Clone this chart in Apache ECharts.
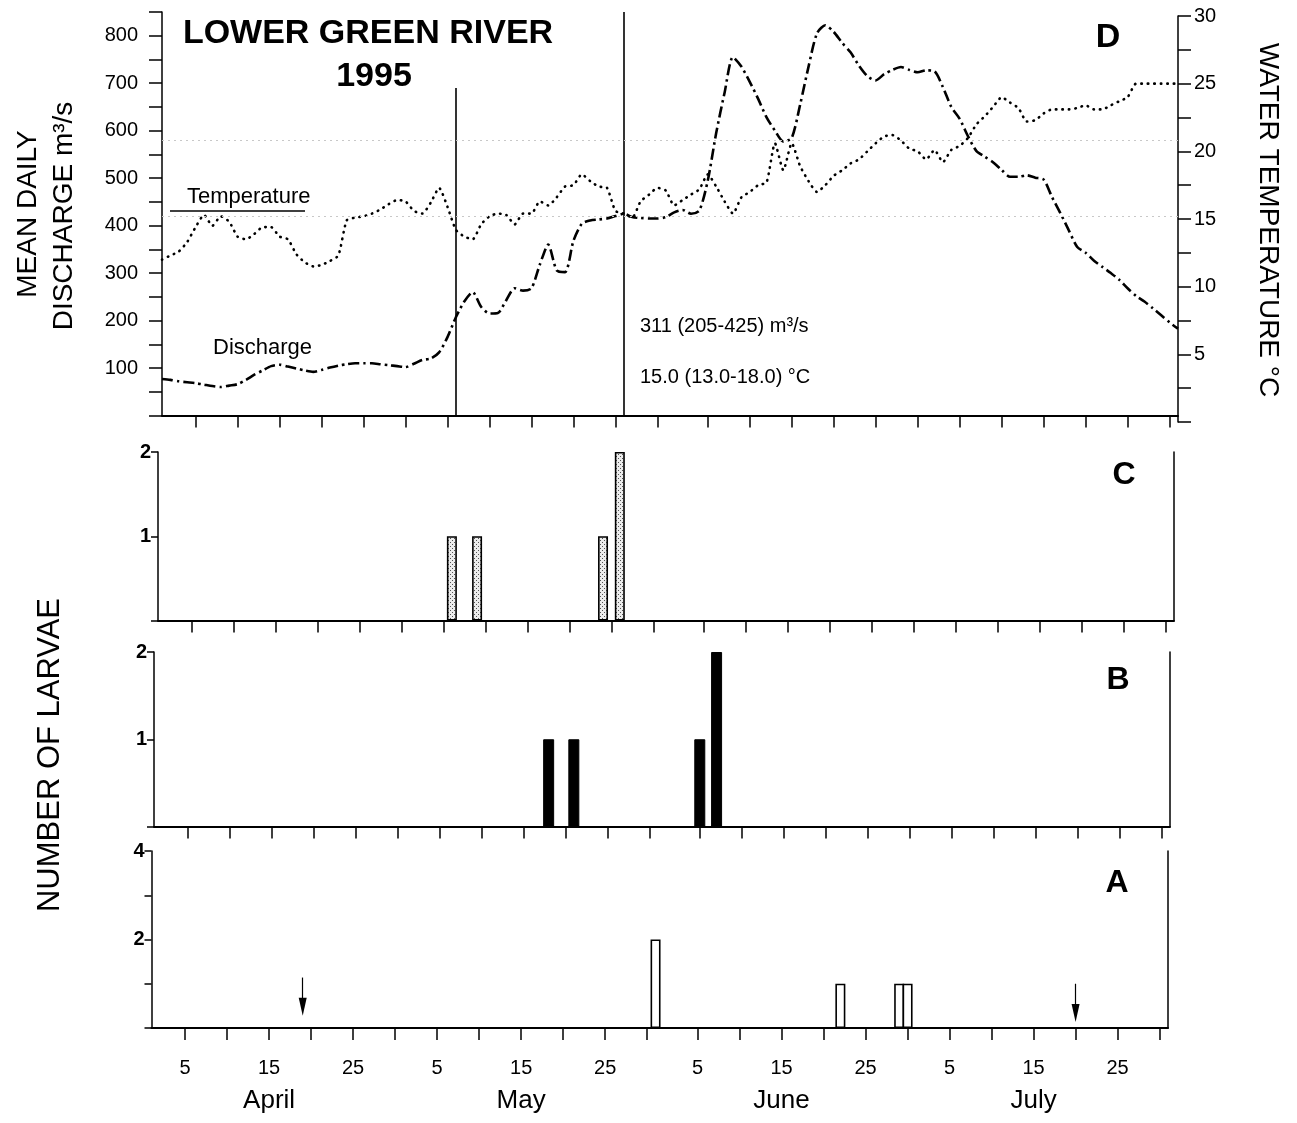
<!DOCTYPE html>
<html>
<head>
<meta charset="utf-8">
<script src="https://cdn.jsdelivr.net/npm/echarts@6/dist/echarts.min.js"></script>
<style>
html,body{margin:0;padding:0;background:#fff;}
#chart{width:1297px;height:1123px;}
</style>
</head>
<body>
<div id="chart"></div>
<script>
// ---- categories ----
const monthNames = ['April', 'May', 'June', 'July'];
const monthNums = [4, 5, 6, 7];
const monthLengths = [30, 31, 30, 31];
const tickDays = [5, 10, 15, 20, 25, 30];
const labelDays = [5, 15, 25];

const days = [];
monthNums.forEach((m, i) => { for (let d = 1; d <= monthLengths[i]; d++) days.push(m + '/' + d); });

// ---- panel D : mean daily discharge (m3/s), Apr 1 .. Jul 31 ----
const discharge = [
  77, 75, 72, 70, 68, 65, 62, 60, 63, 66,
  75, 86, 95, 104, 107, 103, 99, 95, 92, 96,
  101, 105, 108, 110, 110, 110, 108, 106, 104, 102,
  109, 117, 120, 133, 165, 207, 240, 260, 229, 215,
  216, 243, 268, 263, 268, 318, 360, 306, 302, 368,
  404, 411, 413, 415, 420, 425, 418, 416, 415, 415,
  418, 428, 433, 425, 432, 495, 595, 680, 755, 735,
  703, 667, 628, 600, 577, 585, 655, 735, 805, 822,
  808, 785, 765, 737, 715, 706, 719, 728, 734, 728,
  723, 727, 725, 692, 650, 625, 588, 557, 545, 533,
  517, 503, 503, 506, 501, 497, 460, 426, 390, 355,
  343, 326, 313, 300, 286, 268, 252, 240, 226, 211,
  196, 183
];

// ---- panel D : water temperature (deg C) ----
const temperature = [
  12.0, 12.3, 12.6, 13.3, 14.4, 15.3, 14.5, 15.2, 14.8, 13.7,
  13.5, 13.9, 14.4, 14.4, 13.7, 13.5, 12.4, 11.8, 11.5, 11.6,
  11.9, 12.3, 14.9, 15.1, 15.2, 15.4, 15.7, 16.1, 16.4, 16.3,
  15.6, 15.4, 16.2, 17.3, 15.9, 14.2, 13.7, 13.5, 14.6, 15.2,
  15.4, 15.3, 14.6, 15.4, 15.4, 16.3, 16.0, 16.6, 17.4, 17.5,
  18.3, 17.8, 17.4, 17.3, 15.6, 15.4, 15.1, 16.3, 16.8, 17.3,
  17.1, 16.0, 16.4, 16.8, 17.2, 18.3, 17.4, 16.3, 15.4, 16.6,
  17.0, 17.5, 17.7, 20.6, 18.6, 20.6, 18.9, 17.8, 17.0, 17.5,
  18.2, 18.6, 19.1, 19.4, 20.0, 20.6, 21.1, 21.2, 20.8, 20.2,
  20.0, 19.4, 20.1, 19.2, 20.1, 20.4, 21.0, 22.0, 22.6, 23.3,
  24.0, 23.6, 23.2, 22.2, 22.3, 22.8, 23.1, 23.1, 23.1, 23.2,
  23.4, 23.1, 23.1, 23.4, 23.7, 24.0, 25.0, 25.0, 25.0, 25.0,
  25.0, 25.0
];

// ---- larvae counts ----
const larvaeC = [['5/6', 1], ['5/9', 1], ['5/24', 1], ['5/26', 2]];
const larvaeB = [['5/18', 1], ['5/21', 1], ['6/5', 1], ['6/7', 2]];
const larvaeA = [['5/31', 2], ['6/22', 1], ['6/29', 1], ['6/30', 1]];

// markers
const periodLines = [['5/6', 690], ['5/26', 850]];
const arrowsA = [['4/19', 1.14, 0.48], ['7/20', 1.0, 0.34]];
const tempRefLines = [20.8, 15.2];

// ---- stipple pattern ----
const pc = document.createElement('canvas');
pc.width = 4; pc.height = 4;
const pctx = pc.getContext('2d');
pctx.fillStyle = '#ececec'; pctx.fillRect(0, 0, 4, 4);
pctx.fillStyle = '#555';
pctx.fillRect(0, 0, 1, 1); pctx.fillRect(2, 2, 1, 1);

const FF = '"Liberation Sans", Arial, Helvetica, sans-serif';
const dayOf = v => +String(v).split('/')[1];
const tickFn = (i, v) => tickDays.indexOf(dayOf(v)) >= 0;
const labelFn = (i, v) => labelDays.indexOf(dayOf(v)) >= 0;

function xAx(gi, withLabels) {
  return {
    type: 'category', gridIndex: gi, data: days, boundaryGap: false,
    axisLine: { show: true, lineStyle: { color: '#000', width: 2 } },
    axisTick: { show: true, interval: tickFn, length: 12, inside: false, lineStyle: { color: '#000', width: 1.5 } },
    axisLabel: withLabels ? {
      show: true, interval: labelFn, margin: 27, color: '#000',
      formatter: v => {
        const [m, d] = v.split('/');
        if (d === '15') return '{d|15}\n{m|' + monthNames[monthNums.indexOf(+m)] + '}';
        return '{d|' + d + '}';
      },
      rich: {
        d: { fontSize: 20, lineHeight: 26, fontFamily: FF, color: '#000' },
        m: { fontSize: 26, lineHeight: 40, fontFamily: FF, color: '#000' }
      }
    } : { show: false },
    splitLine: { show: false }
  };
}
function borderAx(gi, max) {
  return {
    type: 'value', gridIndex: gi, position: 'right', min: 0, max: max,
    axisLine: { show: true, onZero: false, lineStyle: { color: '#000', width: 1.5 } },
    axisTick: { show: false }, axisLabel: { show: false }, splitLine: { show: false }
  };
}
function smallY(gi, max, labels) {
  return {
    type: 'value', gridIndex: gi, position: 'left', min: 0, max: max, interval: 1,
    axisLine: { show: true, onZero: false, lineStyle: { color: '#000', width: 1.5 } },
    axisTick: { show: true, length: 7, lineStyle: { color: '#000', width: 1.5 } },
    axisLabel: {
      show: true, margin: 7, color: '#000', fontSize: 20, fontWeight: 'bold', fontFamily: FF,
      formatter: v => labels.indexOf(v) >= 0 ? String(v) : ''
    },
    splitLine: { show: false }
  };
}

const option = {
  animation: false,
  backgroundColor: '#fff',
  grid: [
    { left: 162, right: 119, top: 12, bottom: 707.5 },
    { left: 162, right: 119, top: 16, bottom: 701 },
    { left: 158, right: 123, top: 452, bottom: 502.5 },
    { left: 154, right: 127, top: 652, bottom: 296.5 },
    { left: 151.5, right: 129, top: 851, bottom: 95 }
  ],
  xAxis: [
    xAx(0, false),
    Object.assign(xAx(1, false), { show: false }),
    xAx(2, false),
    xAx(3, false),
    xAx(4, true)
  ],
  yAxis: [
    {
      type: 'value', gridIndex: 0, position: 'left', min: 0, max: 850, interval: 50,
      axisLine: { show: true, onZero: false, lineStyle: { color: '#000', width: 1.5 } },
      axisTick: { show: true, length: 13, lineStyle: { color: '#000', width: 1.5 } },
      axisLabel: {
        show: true, margin: 24, color: '#000', fontSize: 20, fontFamily: FF,
        formatter: v => (v > 0 && v <= 800 && v % 100 === 0) ? String(v) : ''
      },
      splitLine: { show: false }
    },
    {
      type: 'value', gridIndex: 1, position: 'right', min: 0, max: 30, interval: 2.5,
      axisLine: { show: true, onZero: false, lineStyle: { color: '#000', width: 1.5 } },
      axisTick: { show: true, length: 13, lineStyle: { color: '#000', width: 1.5 } },
      axisLabel: {
        show: true, margin: 16, color: '#000', fontSize: 20, fontFamily: FF,
        formatter: v => (v > 0 && v % 5 === 0) ? String(v) : ''
      },
      splitLine: { show: false }
    },
    smallY(2, 2, [1, 2]), borderAx(2, 2),
    smallY(3, 2, [1, 2]), borderAx(3, 2),
    smallY(4, 4, [2, 4]), borderAx(4, 4)
  ],
  series: [
    {
      type: 'line', name: 'Discharge', xAxisIndex: 0, yAxisIndex: 0, data: discharge,
      showSymbol: false, smooth: 0.25,
      lineStyle: { color: '#000', width: 2.6, type: [11, 4, 2.5, 4] },
      markLine: {
        silent: true, symbol: ['none', 'none'], label: { show: false },
        lineStyle: { color: '#000', width: 1.6, type: 'solid' },
        data: periodLines.map(p => [{ coord: [p[0], 0] }, { coord: [p[0], p[1]] }])
      }
    },
    {
      type: 'line', name: 'Temperature', xAxisIndex: 1, yAxisIndex: 1, data: temperature,
      showSymbol: false, smooth: 0.2,
      lineStyle: { color: '#000', width: 2.6, type: [0.5, 6], cap: 'round' },
      markLine: {
        silent: true, symbol: ['none', 'none'], label: { show: false },
        lineStyle: { color: '#c8c8c8', width: 1, type: [2, 4] },
        data: tempRefLines.map(t => ({ yAxis: t }))
      }
    },
    {
      type: 'bar', name: 'C', xAxisIndex: 2, yAxisIndex: 2, data: larvaeC, barWidth: 10,
      itemStyle: { color: { image: pc, repeat: 'repeat' }, borderColor: '#000', borderWidth: 1.6 }
    },
    {
      type: 'bar', name: 'B', xAxisIndex: 3, yAxisIndex: 4, data: larvaeB, barWidth: 11,
      itemStyle: { color: '#000', borderColor: '#000', borderWidth: 1 }
    },
    {
      type: 'bar', name: 'A', xAxisIndex: 4, yAxisIndex: 6, data: larvaeA, barWidth: 10,
      itemStyle: { color: '#fff', borderColor: '#000', borderWidth: 1.6 },
      markLine: {
        silent: true, symbol: ['none', 'triangle'], symbolSize: [8, 18], label: { show: false },
        lineStyle: { color: '#000', width: 1.2, type: 'solid' },
        data: arrowsA.map(a => [{ coord: [a[0], a[1]] }, { coord: [a[0], a[2]] }])
      }
    }
  ],
  graphic: [
    { type: 'text', x: 368, y: 34, style: { text: 'LOWER GREEN RIVER', font: 'bold 34px ' + FF, fill: '#000', textAlign: 'center', textVerticalAlign: 'middle' } },
    { type: 'text', x: 374, y: 77, style: { text: '1995', font: 'bold 34px ' + FF, fill: '#000', textAlign: 'center', textVerticalAlign: 'middle' } },
    { type: 'text', x: 1108, y: 38, style: { text: 'D', font: 'bold 34px ' + FF, fill: '#000', textAlign: 'center', textVerticalAlign: 'middle' } },
    { type: 'text', x: 1124, y: 475, style: { text: 'C', font: 'bold 32px ' + FF, fill: '#000', textAlign: 'center', textVerticalAlign: 'middle' } },
    { type: 'text', x: 1118, y: 680, style: { text: 'B', font: 'bold 32px ' + FF, fill: '#000', textAlign: 'center', textVerticalAlign: 'middle' } },
    { type: 'text', x: 1117, y: 883, style: { text: 'A', font: 'bold 32px ' + FF, fill: '#000', textAlign: 'center', textVerticalAlign: 'middle' } },
    { type: 'text', x: 187, y: 197, style: { text: 'Temperature', font: '22px ' + FF, fill: '#000', textAlign: 'left', textVerticalAlign: 'middle' } },
    { type: 'line', shape: { x1: 170, y1: 211, x2: 305, y2: 211 }, style: { stroke: '#000', lineWidth: 1.4 } },
    { type: 'text', x: 213, y: 348, style: { text: 'Discharge', font: '22px ' + FF, fill: '#000', textAlign: 'left', textVerticalAlign: 'middle' } },
    { type: 'text', x: 640, y: 326, style: { text: '311 (205-425) m³/s', font: '20px ' + FF, fill: '#000', textAlign: 'left', textVerticalAlign: 'middle' } },
    { type: 'text', x: 640, y: 377, style: { text: '15.0 (13.0-18.0) °C', font: '20px ' + FF, fill: '#000', textAlign: 'left', textVerticalAlign: 'middle' } },
    { type: 'text', x: 28, y: 214, rotation: Math.PI / 2, style: { text: 'MEAN DAILY', font: '28px ' + FF, fill: '#000', textAlign: 'center', textVerticalAlign: 'middle' } },
    { type: 'text', x: 64, y: 216, rotation: Math.PI / 2, style: { text: 'DISCHARGE m³/s', font: '28px ' + FF, fill: '#000', textAlign: 'center', textVerticalAlign: 'middle' } },
    { type: 'text', x: 50, y: 755, rotation: Math.PI / 2, style: { text: 'NUMBER OF LARVAE', font: '31px ' + FF, fill: '#000', textAlign: 'center', textVerticalAlign: 'middle' } },
    { type: 'text', x: 1268, y: 220, rotation: -Math.PI / 2, style: { text: 'WATER TEMPERATURE °C', font: '28px ' + FF, fill: '#000', textAlign: 'center', textVerticalAlign: 'middle' } }
  ]
};

const chart = echarts.init(document.getElementById('chart'), null, { renderer: 'canvas' });
chart.setOption(option);
</script>
</body>
</html>
